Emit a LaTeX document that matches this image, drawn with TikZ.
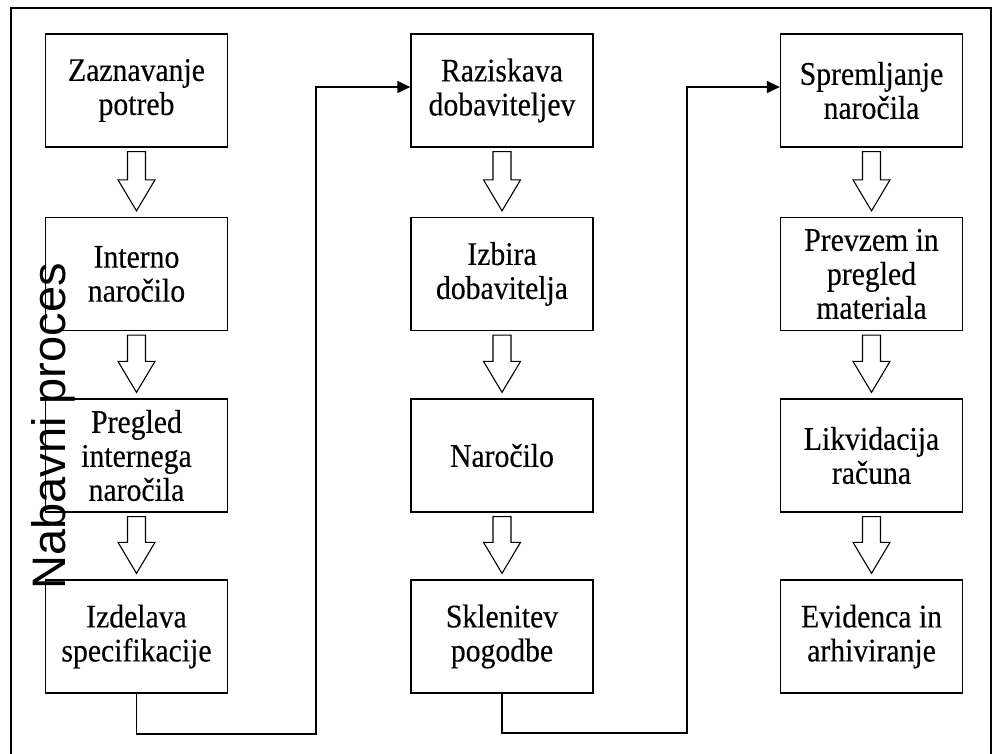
\documentclass[tikz,border=0pt]{standalone}
\usepackage{fontspec}
\setmainfont{Liberation Serif}
\newfontfamily\boxfont[FakeStretch=0.9,FakeBold=0.3]{Liberation Serif}
\newfontfamily\labelfont{Liberation Sans}
\usetikzlibrary{arrows.meta,calc}

% hollow block arrow between two stacked boxes
\newcommand{\blockarrow}[2]{%
  \draw[hollowarrow]
    ($(#1.south)+(-9,4)$) -- ($(#1.south)+(9,4)$)
    -- ($(#2.north)+(9,-37)$) -- ($(#2.north)+(18.5,-37)$)
    -- ($(#2.north)+(0,-6)$)
    -- ($(#2.north)+(-18.5,-37)$) -- ($(#2.north)+(-9,-37)$) -- cycle;}

\begin{document}
\begin{tikzpicture}[x=1pt,y=-1pt,
  stepbox/.style={draw, line width=1.3pt, minimum width=182pt, minimum height=113pt,
    align=center, inner sep=0pt, font=\boxfont\fontsize{33}{34}\selectfont},
  hollowarrow/.style={draw, line width=1.1pt, fill=white, line join=miter},
  link/.style={draw, line width=1.3pt},
  linkarrow/.style={link, -{Triangle[length=13pt,width=12pt]}},
  frame/.style={draw, line width=1.3pt}]
\useasboundingbox (0,0) rectangle (993,754);

% outer frame (open at the bottom)
\draw[frame] (11,754) -- (11,8) -- (991,8) -- (991,754);

% first column
\node[stepbox] (a1) at (136.5,90.5)  {Zaznavanje\\potreb};
\node[stepbox] (a2) at (136.5,274)   {Interno\\naročilo};
\node[stepbox] (a3) at (136.5,455.5) {Pregled\\internega\\naročila};
\node[stepbox] (a4) at (136.5,636.5) {Izdelava\\specifikacije};

% second column
\node[stepbox] (b1) at (502,90.5)  {Raziskava\\dobaviteljev};
\node[stepbox] (b2) at (502,274)   {Izbira\\dobavitelja};
\node[stepbox] (b3) at (502,455.5) {Naročilo};
\node[stepbox] (b4) at (502,636.5) {Sklenitev\\pogodbe};

% third column
\node[stepbox] (c1) at (871.5,90.5)  {Spremljanje\\naročila};
\node[stepbox] (c2) at (871.5,274)   {Prevzem in\\pregled\\materiala};
\node[stepbox] (c3) at (871.5,455.5) {Likvidacija\\računa};
\node[stepbox] (c4) at (871.5,636.5) {Evidenca in\\arhiviranje};

% block arrows inside each column
\blockarrow{a1}{a2}
\blockarrow{a2}{a3}
\blockarrow{a3}{a4}
\blockarrow{b1}{b2}
\blockarrow{b2}{b3}
\blockarrow{b3}{b4}
\blockarrow{c1}{c2}
\blockarrow{c2}{c3}
\blockarrow{c3}{c4}

% connectors from the bottom of one column to the top of the next
\coordinate (j1) at (316,734);
\coordinate (j2) at (687,733);
\draw[linkarrow] (a4.south) |- (j1) |- ($(b1.west)+(0,-3.5)$);
\draw[linkarrow] (b4.south) |- (j2) |- ($(c1.west)+(0,-3.5)$);

% vertical title
\node[rotate=90, anchor=base, inner sep=0pt,
  font=\labelfont\fontsize{47}{50}\selectfont] (title) at (65,426.5) {Nabavni proces};
\end{tikzpicture}
\end{document}
